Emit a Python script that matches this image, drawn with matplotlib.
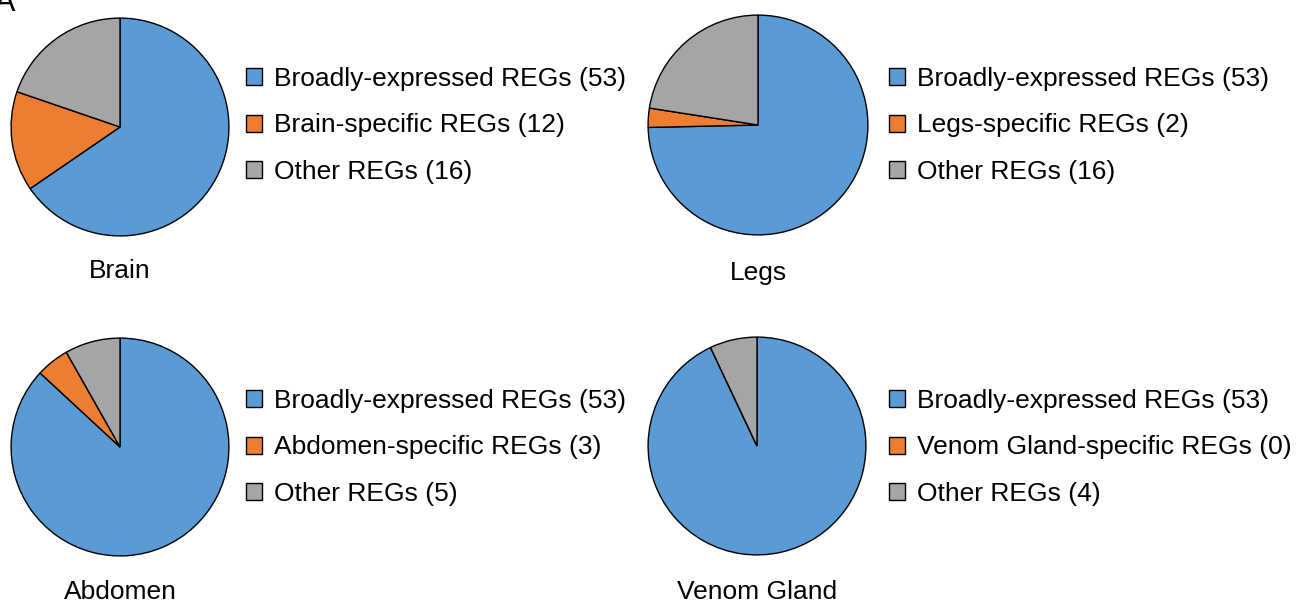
import matplotlib
matplotlib.use("Agg")
import matplotlib.pyplot as plt

plt.rcParams['font.family'] = ['Liberation Sans', 'DejaVu Sans']

# --- data ---
tissues = ["Brain", "Legs", "Abdomen", "Venom Gland"]
broad = [53, 53, 53, 53]
specific = [12, 2, 3, 0]
other = [16, 16, 5, 4]

COLORS = ["#5B9BD5", "#ED7D31", "#A5A5A5"]
W, H = 1301, 606
FS = 19  # pt

fig = plt.figure(figsize=(W / 100, H / 100), dpi=100)

# pie centre (px), radius, legend left, legend top, title y
layout = [
    (120, 127, 110, 246, 67, 271),
    (758, 125, 111, 889, 67, 273),
    (120, 447, 110, 246, 389, 592),
    (757, 446, 110, 889, 389, 592),
]


def px_box(x0, y0, w, h):
    return [x0 / W, 1 - (y0 + h) / H, w / W, h / H]


for i, name in enumerate(tissues):
    cx, cy, r, lx, ly, ty = layout[i]
    ax = fig.add_axes(px_box(cx - r, cy - r, 2 * r, 2 * r))
    vals = [broad[i], specific[i], other[i]]
    wedges, _ = ax.pie(vals, colors=COLORS, startangle=90, counterclock=False,
                       radius=1, wedgeprops=dict(edgecolor="black", linewidth=1.0))
    ax.set_xlim(-1.01, 1.01)
    ax.set_ylim(-1.01, 1.01)
    ax.set_aspect("equal")
    ax.axis("off")

    labels = [f"Broadly-expressed REGs ({broad[i]})",
              f"{name}-specific REGs ({specific[i]})",
              f"Other REGs ({other[i]})"]
    fig.legend(wedges, labels, loc="upper left",
               bbox_to_anchor=(lx / W, 1 - ly / H),
               frameon=False, fontsize=FS, handlelength=0.62, handleheight=0.62,
               handletextpad=0.45, labelspacing=0.85, borderpad=0, borderaxespad=0)

    fig.text(cx / W, 1 - ty / H, name, ha="center", va="center", fontsize=FS)

fig.text(-0.004, 1.02, "A", ha="left", va="top", fontsize=22)

fig.savefig("out.png", dpi=100)
